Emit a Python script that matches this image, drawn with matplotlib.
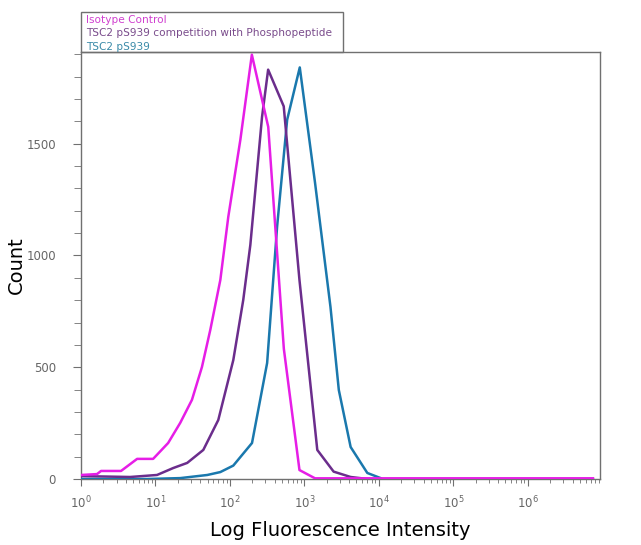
import numpy as np
import matplotlib
matplotlib.use("Agg")
import matplotlib.pyplot as plt
from matplotlib.patches import Rectangle
from matplotlib.ticker import MultipleLocator, FixedLocator, NullFormatter

# histogram curves (intensity, count)
iso_x = [1.0, 1.64, 1.86, 3.45, 5.67, 9.3, 14.8, 21.5, 30.9, 42.1, 54.5, 74.3,
         95.1, 138, 197, 327, 530, 859, 1390, 7.5e6]
iso_y = [18, 22, 36, 36, 90, 90, 161, 251, 354, 501, 667, 890,
         1173, 1517, 1898, 1575, 582, 40, 3, 3]

comp_x = [1.0, 4.56, 10.5, 17.3, 26.7, 43.9, 69.8, 111, 151, 188, 270, 326,
          528, 859, 1490, 2470, 4180, 7060, 7.5e6]
comp_y = [13, 9, 18, 49, 72, 130, 264, 532, 801, 1047, 1620, 1831,
          1667, 890, 130, 33, 9, 0, 0]

ps_x = [1.0, 7.73, 21.5, 49.7, 74.3, 111, 198, 316, 430, 587, 867, 1390,
        2240, 2900, 4180, 7000, 10570]
ps_y = [0, 0, 4, 18, 31, 60, 161, 519, 1128, 1607, 1841, 1325,
        770, 398, 143, 27, 4]

decades = [0, 1, 2, 3, 4, 5, 6]
labels = ["Isotype Control", "TSC2 pS939 competition with Phosphopeptide", "TSC2 pS939"]
line_colors = ["#e61ee6", "#6b2d8c", "#1a78ad"]
text_colors = ["#d040d0", "#7a4c8c", "#3a8aa8"]

fig = plt.figure(figsize=(6.41, 5.45), dpi=100)
ax = fig.add_axes([81/641, 66/545, 519/641, 427/545])

ax.plot(ps_x, ps_y, color=line_colors[2], lw=1.8, zorder=3)
ax.plot(comp_x, comp_y, color=line_colors[1], lw=1.8, zorder=4)
ax.plot(iso_x, iso_y, color=line_colors[0], lw=1.8, zorder=5)

ax.set_xscale("log")
ax.set_xlim(1, 10**6.97)
ax.set_ylim(0, 1910)
ax.yaxis.set_major_locator(MultipleLocator(500))
ax.yaxis.set_minor_locator(MultipleLocator(100))
ax.set_xticks([10**d for d in decades])
ax.set_xticklabels([r"$10^{%d}$" % d for d in decades])
minors = [m * 10**d for d in decades for m in range(2, 10) if m * 10**d < 10**6.97]
ax.xaxis.set_minor_locator(FixedLocator(minors))
ax.xaxis.set_minor_formatter(NullFormatter())

for s in ax.spines.values():
    s.set_color("#707070")
    s.set_linewidth(1.0)
ax.tick_params(axis="both", which="major", direction="out", length=5,
               color="#707070", labelcolor="#666666", labelsize=8.5)
ax.tick_params(axis="both", which="minor", direction="out", length=3, color="#707070")
ax.tick_params(axis="x", pad=6)
ax.tick_params(axis="y", which="major", length=6, pad=12)
ax.tick_params(axis="y", which="minor", length=5)

ax.set_xlabel("Log Fluorescence Intensity", fontsize=14)
ax.set_ylabel("Count", fontsize=14)
ax.xaxis.set_label_coords(0.5, (479 - 531) / 427)
ax.xaxis.label.set_va("center")
ax.yaxis.set_label_coords((16 - 81) / 519, 0.5)
ax.yaxis.label.set_va("center")

# legend box above the plot
fig.patches.append(Rectangle((81/641, 1 - 52/545), (343-81)/641, 40/545,
                             transform=fig.transFigure, fill=False,
                             edgecolor="#707070", lw=1.0))
for i, (lab, c) in enumerate(zip(labels, text_colors)):
    fig.text(86/641, 1 - (20 + 13.3*i)/545, lab, color=c, fontsize=7.6,
             va="center", ha="left")

fig.savefig("out.png", dpi=100)
